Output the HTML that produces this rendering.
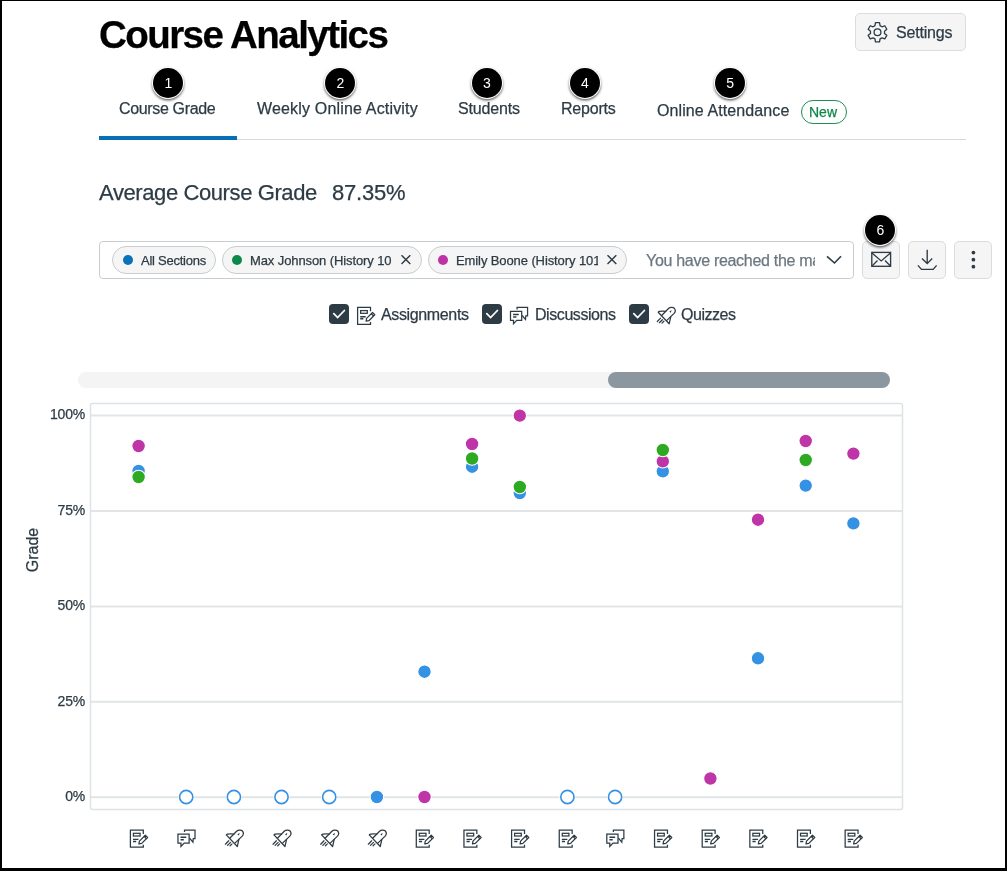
<!DOCTYPE html>
<html><head><meta charset="utf-8">
<style>
html,body{margin:0;padding:0;width:1007px;height:871px;overflow:hidden;background:#fff;}
.a{will-change:transform;-webkit-text-stroke:0.25px currentColor;}
.a{position:absolute;white-space:nowrap;font-family:"Liberation Sans",sans-serif;color:#2D3B45;}
.bd{position:absolute;background:#000;}
.badge{position:absolute;width:30px;height:30px;border-radius:50%;background:#000;box-shadow:0 0 0 1px #fff,0 1.5px 2.5px 1px rgba(0,0,0,.6);color:#fff;font-family:"Liberation Sans",sans-serif;font-size:14px;line-height:30px;text-align:center;text-indent:0.6px;}
.btn{position:absolute;background:#F5F5F5;border:1px solid #DCDCDC;border-radius:5px;box-sizing:border-box;}
.chip{position:absolute;top:246px;height:28px;box-sizing:border-box;background:#F5F5F5;border:1px solid #C7CDD1;border-radius:14px;}
.dot{position:absolute;width:10px;height:10px;border-radius:50%;top:8px;}
.ct{position:absolute;top:7px;font-size:13px;line-height:14px;letter-spacing:-0.05px;overflow:hidden;}
.cb{position:absolute;top:304px;width:20px;height:20px;border-radius:4px;background:#2D3B45;}
</style></head>
<body>
<div class="a" style="left:99px;top:15.8px;font-size:38.5px;line-height:38.5px;font-weight:700;color:#000;letter-spacing:-1.55px;">Course Analytics</div>

<div class="btn" style="left:855px;top:13px;width:111px;height:38px;"></div>
<svg style="position:absolute;left:0;top:0" width="1007" height="60"><path d="M874.96,25.67 L875.46,22.71 L879.54,22.71 L880.04,25.67 L881.97,26.78 L884.78,25.74 L886.82,29.27 L884.51,31.19 L884.51,33.41 L886.82,35.33 L884.78,38.86 L881.97,37.82 L880.04,38.93 L879.54,41.89 L875.46,41.89 L874.96,38.93 L873.03,37.82 L870.22,38.86 L868.18,35.33 L870.49,33.41 L870.49,31.19 L868.18,29.27 L870.22,25.74 L873.03,26.78 Z" fill="none" stroke="#2D3B45" stroke-width="1.3" stroke-linejoin="round"/><circle cx="877.5" cy="32.3" r="3.4" fill="none" stroke="#2D3B45" stroke-width="1.3"/></svg>
<div class="a" style="left:896px;top:25px;font-size:16px;line-height:16px;letter-spacing:-0.2px;">Settings</div>

<!-- tabs -->
<div class="a" style="left:119px;top:101px;font-size:16px;line-height:16px;letter-spacing:-0.35px;">Course Grade</div>
<div class="a" style="left:256.5px;top:101px;font-size:16px;line-height:16px;letter-spacing:0.17px;">Weekly Online Activity</div>
<div class="a" style="left:458px;top:101px;font-size:16px;line-height:16px;letter-spacing:-0.15px;">Students</div>
<div class="a" style="left:561px;top:101px;font-size:16px;line-height:16px;letter-spacing:-0.2px;">Reports</div>
<div class="a" style="left:656.5px;top:103px;font-size:16px;line-height:16px;letter-spacing:0.1px;">Online Attendance</div>
<div style="position:absolute;left:801px;top:99.5px;width:46px;height:24px;box-sizing:border-box;border:1.2px solid #1F8E55;border-radius:12px;"></div>
<div class="a" style="left:809.3px;top:104.9px;font-size:14px;line-height:14px;color:#0F8549;">New</div>
<div style="position:absolute;left:99px;top:138.5px;width:867px;height:1.5px;background:#D5D9DD;"></div>
<div style="position:absolute;left:99px;top:136px;width:138px;height:4px;background:#0770B5;"></div>

<div class="badge" style="left:153px;top:68px;">1</div>
<div class="badge" style="left:325px;top:68px;">2</div>
<div class="badge" style="left:471.7px;top:68px;">3</div>
<div class="badge" style="left:569.6px;top:68px;">4</div>
<div class="badge" style="left:714.8px;top:68px;">5</div>

<!-- average -->
<div class="a" style="left:98.5px;top:182px;font-size:22px;line-height:22px;letter-spacing:-0.4px;">Average Course Grade</div>
<div class="a" style="left:332px;top:182px;font-size:22px;line-height:22px;letter-spacing:-0.2px;">87.35%</div>

<!-- filter box -->
<div style="position:absolute;left:99px;top:241px;width:755px;height:38px;box-sizing:border-box;border:1px solid #C7CDD1;border-radius:4px;"></div>
<div class="chip" style="left:112px;width:104px;"><div class="dot" style="left:10.3px;top:7.6px;background:#0A72B8;"></div><div class="a ct" style="left:27.5px;letter-spacing:-0.25px;">All Sections</div></div>
<div class="chip" style="left:222px;width:200px;"><div class="dot" style="left:9.3px;background:#0E8A48;"></div><div class="a ct" style="left:26.5px;width:143px;letter-spacing:-0.1px;">Max Johnson (History 10</div>
<svg style="position:absolute;left:177px;top:8px" width="12" height="11"><path d="M1.5,0.2 L10.3,9 M10.3,0.2 L1.5,9" stroke="#2D3B45" stroke-width="1.4"/></svg></div>
<div class="chip" style="left:428px;width:199px;"><div class="dot" style="left:9.3px;background:#BF32A4;"></div><div class="a ct" style="left:26.5px;width:141.5px;letter-spacing:-0.1px;">Emily Boone (History 101</div>
<svg style="position:absolute;left:177px;top:8px" width="12" height="11"><path d="M1.5,0.2 L10.3,9 M10.3,0.2 L1.5,9" stroke="#2D3B45" stroke-width="1.4"/></svg></div>
<div class="a" style="left:646px;top:253.3px;width:169px;overflow:hidden;font-size:16px;line-height:16px;color:#6B7780;letter-spacing:-0.3px;">You have reached the maximum</div>
<svg style="position:absolute;left:820px;top:250px" width="30" height="20"><path d="M7,6.3 L14.5,13 L21,6.3" fill="none" stroke="#2D3B45" stroke-width="1.6"/></svg>

<div class="btn" style="left:862px;top:241px;width:38px;height:38px;"></div>
<div class="btn" style="left:908px;top:241px;width:38px;height:38px;"></div>
<div class="btn" style="left:954px;top:241px;width:38px;height:38px;"></div>
<svg style="position:absolute;left:0;top:230px" width="1007" height="60">
<rect x="871.8" y="22.4" width="18.8" height="13.9" fill="none" stroke="#2D3B45" stroke-width="1.35"/>
<path d="M872,23 L881.2,31 L890.4,23 M872,36 L877.5,30.5 M890.4,36 L885,30.5" fill="none" stroke="#2D3B45" stroke-width="1.3"/>
<path d="M927.2,19.8 V33.6 M922,28.5 L927.2,33.6 L932.2,28.5 M917.9,35.4 L921.5,39.4 H933.2 L936.6,35.4" fill="none" stroke="#2D3B45" stroke-width="1.35"/>
<circle cx="973.4" cy="22.6" r="1.85" fill="#2D3B45"/><circle cx="973.4" cy="29.7" r="1.85" fill="#2D3B45"/><circle cx="973.4" cy="36.7" r="1.85" fill="#2D3B45"/>
</svg>
<div class="badge" style="left:865px;top:215px;">6</div>

<!-- checkboxes -->
<div class="cb" style="left:329px;"><svg width="20" height="20"><path d="M4.8,9.7 L8.6,13.5 L15.4,6.5" fill="none" stroke="#fff" stroke-width="1.75" stroke-linecap="round" stroke-linejoin="miter"/></svg></div>
<div class="cb" style="left:482px;"><svg width="20" height="20"><path d="M4.8,9.7 L8.6,13.5 L15.4,6.5" fill="none" stroke="#fff" stroke-width="1.75" stroke-linecap="round" stroke-linejoin="miter"/></svg></div>
<div class="cb" style="left:629px;"><svg width="20" height="20"><path d="M4.8,9.7 L8.6,13.5 L15.4,6.5" fill="none" stroke="#fff" stroke-width="1.75" stroke-linecap="round" stroke-linejoin="miter"/></svg></div>
<div class="a" style="left:381px;top:306.5px;font-size:16px;line-height:16px;letter-spacing:-0.36px;">Assignments</div>
<div class="a" style="left:535px;top:306.5px;font-size:16px;line-height:16px;letter-spacing:-0.43px;">Discussions</div>
<div class="a" style="left:681px;top:306.5px;font-size:16px;line-height:16px;letter-spacing:-0.47px;">Quizzes</div>

<!-- scrollbar -->
<div style="position:absolute;left:78px;top:372px;width:812px;height:16px;border-radius:8px;background:#F4F4F4;"></div>
<div style="position:absolute;left:607.5px;top:372px;width:282.5px;height:16px;border-radius:8px;background:#8B969E;"></div>

<!-- y labels -->
<div class="a" style="left:35px;width:50px;text-align:right;top:407.3px;font-size:14px;line-height:14px;letter-spacing:-0.2px;">100%</div>
<div class="a" style="left:35px;width:50px;text-align:right;top:502.7px;font-size:14px;line-height:14px;letter-spacing:-0.2px;">75%</div>
<div class="a" style="left:35px;width:50px;text-align:right;top:598.1px;font-size:14px;line-height:14px;letter-spacing:-0.2px;">50%</div>
<div class="a" style="left:35px;width:50px;text-align:right;top:693.5px;font-size:14px;line-height:14px;letter-spacing:-0.2px;">25%</div>
<div class="a" style="left:35px;width:50px;text-align:right;top:788.9px;font-size:14px;line-height:14px;letter-spacing:-0.2px;">0%</div>
<div class="a" style="left:7.7px;top:542px;width:50px;text-align:center;font-size:16px;line-height:16px;transform:rotate(-90deg);">Grade</div>

<svg style="position:absolute;left:0;top:0" width="1007" height="871">
<line x1="90" y1="415.6" x2="902" y2="415.6" stroke="#E1E5E8" stroke-width="2"/><line x1="90" y1="511.0" x2="902" y2="511.0" stroke="#E1E5E8" stroke-width="2"/><line x1="90" y1="606.4" x2="902" y2="606.4" stroke="#E1E5E8" stroke-width="2"/><line x1="90" y1="701.8" x2="902" y2="701.8" stroke="#E1E5E8" stroke-width="2"/><line x1="90" y1="797.2" x2="902" y2="797.2" stroke="#E1E5E8" stroke-width="2"/><rect x="90.5" y="403.5" width="812" height="406" rx="2" fill="none" stroke="#DDE2E5" stroke-width="1.5"/><circle cx="186.2" cy="797" r="8" fill="#fff"/><circle cx="186.2" cy="797" r="6.6" fill="#fff" stroke="#3591E3" stroke-width="1.6"/><circle cx="233.9" cy="797" r="8" fill="#fff"/><circle cx="233.9" cy="797" r="6.6" fill="#fff" stroke="#3591E3" stroke-width="1.6"/><circle cx="281.5" cy="797" r="8" fill="#fff"/><circle cx="281.5" cy="797" r="6.6" fill="#fff" stroke="#3591E3" stroke-width="1.6"/><circle cx="329.2" cy="797" r="8" fill="#fff"/><circle cx="329.2" cy="797" r="6.6" fill="#fff" stroke="#3591E3" stroke-width="1.6"/><circle cx="567.4" cy="797" r="8" fill="#fff"/><circle cx="567.4" cy="797" r="6.6" fill="#fff" stroke="#3591E3" stroke-width="1.6"/><circle cx="615.1" cy="797" r="8" fill="#fff"/><circle cx="615.1" cy="797" r="6.6" fill="#fff" stroke="#3591E3" stroke-width="1.6"/><circle cx="138.6" cy="471" r="6.75" fill="#3591E3" stroke="#fff" stroke-width="1.1"/><circle cx="138.6" cy="477" r="6.75" fill="#2EAA22" stroke="#fff" stroke-width="1.1"/><circle cx="138.6" cy="446" r="6.75" fill="#BF35A8" stroke="#fff" stroke-width="1.1"/><circle cx="376.9" cy="797" r="6.75" fill="#3591E3" stroke="#fff" stroke-width="1.1"/><circle cx="424.5" cy="671.7" r="6.75" fill="#3591E3" stroke="#fff" stroke-width="1.1"/><circle cx="424.5" cy="797" r="6.75" fill="#BF35A8" stroke="#fff" stroke-width="1.1"/><circle cx="472.1" cy="466.7" r="6.75" fill="#3591E3" stroke="#fff" stroke-width="1.1"/><circle cx="472.1" cy="458.5" r="6.75" fill="#2EAA22" stroke="#fff" stroke-width="1.1"/><circle cx="472.1" cy="444" r="6.75" fill="#BF35A8" stroke="#fff" stroke-width="1.1"/><circle cx="519.8" cy="493" r="6.75" fill="#3591E3" stroke="#fff" stroke-width="1.1"/><circle cx="519.8" cy="487" r="6.75" fill="#2EAA22" stroke="#fff" stroke-width="1.1"/><circle cx="519.8" cy="415.6" r="6.75" fill="#BF35A8" stroke="#fff" stroke-width="1.1"/><circle cx="662.8" cy="471.3" r="6.75" fill="#3591E3" stroke="#fff" stroke-width="1.1"/><circle cx="662.8" cy="461.3" r="6.75" fill="#BF35A8" stroke="#fff" stroke-width="1.1"/><circle cx="662.8" cy="450" r="6.75" fill="#2EAA22" stroke="#fff" stroke-width="1.1"/><circle cx="710.4" cy="778.5" r="6.75" fill="#BF35A8" stroke="#fff" stroke-width="1.1"/><circle cx="758.0" cy="658.3" r="6.75" fill="#3591E3" stroke="#fff" stroke-width="1.1"/><circle cx="758.0" cy="519.7" r="6.75" fill="#BF35A8" stroke="#fff" stroke-width="1.1"/><circle cx="805.7" cy="485.6" r="6.75" fill="#3591E3" stroke="#fff" stroke-width="1.1"/><circle cx="805.7" cy="460" r="6.75" fill="#2EAA22" stroke="#fff" stroke-width="1.1"/><circle cx="805.7" cy="441" r="6.75" fill="#BF35A8" stroke="#fff" stroke-width="1.1"/><circle cx="853.4" cy="523.4" r="6.75" fill="#3591E3" stroke="#fff" stroke-width="1.1"/><circle cx="853.4" cy="453.6" r="6.75" fill="#BF35A8" stroke="#fff" stroke-width="1.1"/><g transform="translate(129.30,829.20) scale(1.0)"><g fill="none" stroke="#2D3B45" stroke-width="1.25">
<path d="M14,4.7 V0.9 H1.1 V17.9 H14 V15.5"/><rect x="4.1" y="4.1" width="6.7" height="2.7"/>
<path d="M3.7,10.2 H9.2 M3.7,12.3 H6.9" stroke-width="1.4"/><path d="M9.6,14.7 L10.1,11.9 L16,6 L18.3,8.3 L12.4,14.2 Z" stroke-linejoin="round"/>
<path d="M14.8,7.2 L17.1,9.5"/>
</g></g><g transform="translate(176.95,829.20) scale(1.0)"><g fill="none" stroke="#2D3B45" stroke-width="1.25">
<path d="M7.56,2.9 V0.9 H18.06 V9.3 H16.3 L16,13 L12.6,9"/>
<path d="M1,4.9 H12.2 V13.8 H7.2 L4,17.2 V13.8 H1 Z"/>
<path d="M3.6,8.1 H9.3 M3.6,10.5 H6.9" stroke-width="1.5"/>
</g></g><g transform="translate(224.60,829.20) scale(1.0)"><g fill="none" stroke="#2D3B45" stroke-width="1.25" stroke-linejoin="round" stroke-linecap="round">
<path d="M5.15,9.0 L12.0,2.0 C13.5,0.8 16.5,0.5 17.8,1.8 C19.0,3.2 18.8,5.5 17.6,6.9 L10.3,13.9"/>
<path d="M1.7,5.7 L12.7,17.3 L14.3,10.2 M1.7,5.7 C2,4.9 6,4.6 9.3,4.8"/>
<path d="M0.8,15 L4.1,11.6 M2.9,16.2 L5.9,13.2 M5.5,16.6 L7.4,14.7"/>
</g><path d="M12.8,5.2 L15,3.6 L14.4,6.2 Z" fill="#2D3B45"/></g><g transform="translate(272.25,829.20) scale(1.0)"><g fill="none" stroke="#2D3B45" stroke-width="1.25" stroke-linejoin="round" stroke-linecap="round">
<path d="M5.15,9.0 L12.0,2.0 C13.5,0.8 16.5,0.5 17.8,1.8 C19.0,3.2 18.8,5.5 17.6,6.9 L10.3,13.9"/>
<path d="M1.7,5.7 L12.7,17.3 L14.3,10.2 M1.7,5.7 C2,4.9 6,4.6 9.3,4.8"/>
<path d="M0.8,15 L4.1,11.6 M2.9,16.2 L5.9,13.2 M5.5,16.6 L7.4,14.7"/>
</g><path d="M12.8,5.2 L15,3.6 L14.4,6.2 Z" fill="#2D3B45"/></g><g transform="translate(319.90,829.20) scale(1.0)"><g fill="none" stroke="#2D3B45" stroke-width="1.25" stroke-linejoin="round" stroke-linecap="round">
<path d="M5.15,9.0 L12.0,2.0 C13.5,0.8 16.5,0.5 17.8,1.8 C19.0,3.2 18.8,5.5 17.6,6.9 L10.3,13.9"/>
<path d="M1.7,5.7 L12.7,17.3 L14.3,10.2 M1.7,5.7 C2,4.9 6,4.6 9.3,4.8"/>
<path d="M0.8,15 L4.1,11.6 M2.9,16.2 L5.9,13.2 M5.5,16.6 L7.4,14.7"/>
</g><path d="M12.8,5.2 L15,3.6 L14.4,6.2 Z" fill="#2D3B45"/></g><g transform="translate(367.55,829.20) scale(1.0)"><g fill="none" stroke="#2D3B45" stroke-width="1.25" stroke-linejoin="round" stroke-linecap="round">
<path d="M5.15,9.0 L12.0,2.0 C13.5,0.8 16.5,0.5 17.8,1.8 C19.0,3.2 18.8,5.5 17.6,6.9 L10.3,13.9"/>
<path d="M1.7,5.7 L12.7,17.3 L14.3,10.2 M1.7,5.7 C2,4.9 6,4.6 9.3,4.8"/>
<path d="M0.8,15 L4.1,11.6 M2.9,16.2 L5.9,13.2 M5.5,16.6 L7.4,14.7"/>
</g><path d="M12.8,5.2 L15,3.6 L14.4,6.2 Z" fill="#2D3B45"/></g><g transform="translate(415.20,829.20) scale(1.0)"><g fill="none" stroke="#2D3B45" stroke-width="1.25">
<path d="M14,4.7 V0.9 H1.1 V17.9 H14 V15.5"/><rect x="4.1" y="4.1" width="6.7" height="2.7"/>
<path d="M3.7,10.2 H9.2 M3.7,12.3 H6.9" stroke-width="1.4"/><path d="M9.6,14.7 L10.1,11.9 L16,6 L18.3,8.3 L12.4,14.2 Z" stroke-linejoin="round"/>
<path d="M14.8,7.2 L17.1,9.5"/>
</g></g><g transform="translate(462.85,829.20) scale(1.0)"><g fill="none" stroke="#2D3B45" stroke-width="1.25">
<path d="M14,4.7 V0.9 H1.1 V17.9 H14 V15.5"/><rect x="4.1" y="4.1" width="6.7" height="2.7"/>
<path d="M3.7,10.2 H9.2 M3.7,12.3 H6.9" stroke-width="1.4"/><path d="M9.6,14.7 L10.1,11.9 L16,6 L18.3,8.3 L12.4,14.2 Z" stroke-linejoin="round"/>
<path d="M14.8,7.2 L17.1,9.5"/>
</g></g><g transform="translate(510.50,829.20) scale(1.0)"><g fill="none" stroke="#2D3B45" stroke-width="1.25">
<path d="M14,4.7 V0.9 H1.1 V17.9 H14 V15.5"/><rect x="4.1" y="4.1" width="6.7" height="2.7"/>
<path d="M3.7,10.2 H9.2 M3.7,12.3 H6.9" stroke-width="1.4"/><path d="M9.6,14.7 L10.1,11.9 L16,6 L18.3,8.3 L12.4,14.2 Z" stroke-linejoin="round"/>
<path d="M14.8,7.2 L17.1,9.5"/>
</g></g><g transform="translate(558.15,829.20) scale(1.0)"><g fill="none" stroke="#2D3B45" stroke-width="1.25">
<path d="M14,4.7 V0.9 H1.1 V17.9 H14 V15.5"/><rect x="4.1" y="4.1" width="6.7" height="2.7"/>
<path d="M3.7,10.2 H9.2 M3.7,12.3 H6.9" stroke-width="1.4"/><path d="M9.6,14.7 L10.1,11.9 L16,6 L18.3,8.3 L12.4,14.2 Z" stroke-linejoin="round"/>
<path d="M14.8,7.2 L17.1,9.5"/>
</g></g><g transform="translate(605.80,829.20) scale(1.0)"><g fill="none" stroke="#2D3B45" stroke-width="1.25">
<path d="M7.56,2.9 V0.9 H18.06 V9.3 H16.3 L16,13 L12.6,9"/>
<path d="M1,4.9 H12.2 V13.8 H7.2 L4,17.2 V13.8 H1 Z"/>
<path d="M3.6,8.1 H9.3 M3.6,10.5 H6.9" stroke-width="1.5"/>
</g></g><g transform="translate(653.45,829.20) scale(1.0)"><g fill="none" stroke="#2D3B45" stroke-width="1.25">
<path d="M14,4.7 V0.9 H1.1 V17.9 H14 V15.5"/><rect x="4.1" y="4.1" width="6.7" height="2.7"/>
<path d="M3.7,10.2 H9.2 M3.7,12.3 H6.9" stroke-width="1.4"/><path d="M9.6,14.7 L10.1,11.9 L16,6 L18.3,8.3 L12.4,14.2 Z" stroke-linejoin="round"/>
<path d="M14.8,7.2 L17.1,9.5"/>
</g></g><g transform="translate(701.10,829.20) scale(1.0)"><g fill="none" stroke="#2D3B45" stroke-width="1.25">
<path d="M14,4.7 V0.9 H1.1 V17.9 H14 V15.5"/><rect x="4.1" y="4.1" width="6.7" height="2.7"/>
<path d="M3.7,10.2 H9.2 M3.7,12.3 H6.9" stroke-width="1.4"/><path d="M9.6,14.7 L10.1,11.9 L16,6 L18.3,8.3 L12.4,14.2 Z" stroke-linejoin="round"/>
<path d="M14.8,7.2 L17.1,9.5"/>
</g></g><g transform="translate(748.75,829.20) scale(1.0)"><g fill="none" stroke="#2D3B45" stroke-width="1.25">
<path d="M14,4.7 V0.9 H1.1 V17.9 H14 V15.5"/><rect x="4.1" y="4.1" width="6.7" height="2.7"/>
<path d="M3.7,10.2 H9.2 M3.7,12.3 H6.9" stroke-width="1.4"/><path d="M9.6,14.7 L10.1,11.9 L16,6 L18.3,8.3 L12.4,14.2 Z" stroke-linejoin="round"/>
<path d="M14.8,7.2 L17.1,9.5"/>
</g></g><g transform="translate(796.40,829.20) scale(1.0)"><g fill="none" stroke="#2D3B45" stroke-width="1.25">
<path d="M14,4.7 V0.9 H1.1 V17.9 H14 V15.5"/><rect x="4.1" y="4.1" width="6.7" height="2.7"/>
<path d="M3.7,10.2 H9.2 M3.7,12.3 H6.9" stroke-width="1.4"/><path d="M9.6,14.7 L10.1,11.9 L16,6 L18.3,8.3 L12.4,14.2 Z" stroke-linejoin="round"/>
<path d="M14.8,7.2 L17.1,9.5"/>
</g></g><g transform="translate(844.05,829.20) scale(1.0)"><g fill="none" stroke="#2D3B45" stroke-width="1.25">
<path d="M14,4.7 V0.9 H1.1 V17.9 H14 V15.5"/><rect x="4.1" y="4.1" width="6.7" height="2.7"/>
<path d="M3.7,10.2 H9.2 M3.7,12.3 H6.9" stroke-width="1.4"/><path d="M9.6,14.7 L10.1,11.9 L16,6 L18.3,8.3 L12.4,14.2 Z" stroke-linejoin="round"/>
<path d="M14.8,7.2 L17.1,9.5"/>
</g></g><g transform="translate(356.50,306.50) scale(1.0)"><g fill="none" stroke="#2D3B45" stroke-width="1.25">
<path d="M14,4.7 V0.9 H1.1 V17.9 H14 V15.5"/><rect x="4.1" y="4.1" width="6.7" height="2.7"/>
<path d="M3.7,10.2 H9.2 M3.7,12.3 H6.9" stroke-width="1.4"/><path d="M9.6,14.7 L10.1,11.9 L16,6 L18.3,8.3 L12.4,14.2 Z" stroke-linejoin="round"/>
<path d="M14.8,7.2 L17.1,9.5"/>
</g></g><g transform="translate(509.50,306.50) scale(1.0)"><g fill="none" stroke="#2D3B45" stroke-width="1.25">
<path d="M7.56,2.9 V0.9 H18.06 V9.3 H16.3 L16,13 L12.6,9"/>
<path d="M1,4.9 H12.2 V13.8 H7.2 L4,17.2 V13.8 H1 Z"/>
<path d="M3.6,8.1 H9.3 M3.6,10.5 H6.9" stroke-width="1.5"/>
</g></g><g transform="translate(656.50,306.50) scale(1.0)"><g fill="none" stroke="#2D3B45" stroke-width="1.25" stroke-linejoin="round" stroke-linecap="round">
<path d="M5.15,9.0 L12.0,2.0 C13.5,0.8 16.5,0.5 17.8,1.8 C19.0,3.2 18.8,5.5 17.6,6.9 L10.3,13.9"/>
<path d="M1.7,5.7 L12.7,17.3 L14.3,10.2 M1.7,5.7 C2,4.9 6,4.6 9.3,4.8"/>
<path d="M0.8,15 L4.1,11.6 M2.9,16.2 L5.9,13.2 M5.5,16.6 L7.4,14.7"/>
</g><path d="M12.8,5.2 L15,3.6 L14.4,6.2 Z" fill="#2D3B45"/></g>
</svg>

<div class="bd" style="left:0;top:0;width:1007px;height:1px;"></div>
<div class="bd" style="left:0;top:0;width:2px;height:871px;"></div>
<div class="bd" style="left:1005px;top:0;width:2px;height:871px;"></div>
<div class="bd" style="left:0;top:868px;width:1007px;height:3px;"></div>
</body></html>
